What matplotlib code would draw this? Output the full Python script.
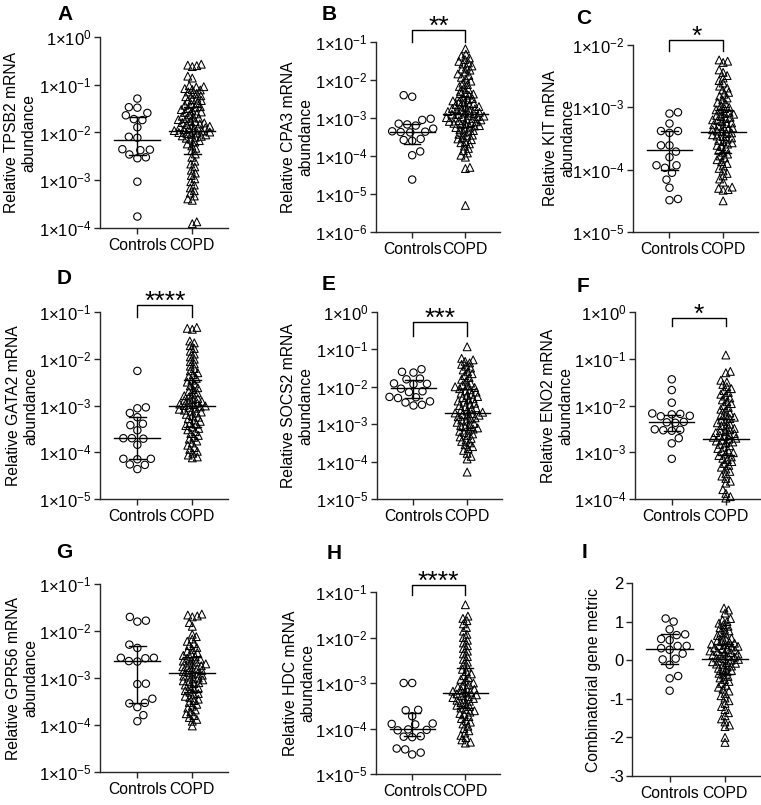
import numpy as np
import matplotlib
matplotlib.use("Agg")
import matplotlib.pyplot as plt
from matplotlib.ticker import FixedLocator, NullLocator
import matplotlib.transforms as mtransforms

plt.rcParams['font.family'] = ['Liberation Sans', 'DejaVu Sans']
plt.rcParams['mathtext.fontset'] = 'custom'
plt.rcParams['mathtext.rm'] = 'Liberation Sans'
plt.rcParams['mathtext.it'] = 'Liberation Sans:italic'
plt.rcParams['mathtext.bf'] = 'Liberation Sans:bold'
plt.rcParams['axes.unicode_minus'] = False

# ---------------- data (log10 of relative abundance) -------------
groups = ["Controls", "COPD"]
letters = ["A", "B", "C", "D", "E", "F", "G", "H", "I"]
ylabels = ["Relative TPSB2 mRNA\nabundance", "Relative CPA3 mRNA\nabundance",
           "Relative KIT mRNA\nabundance", "Relative GATA2 mRNA\nabundance",
           "Relative SOCS2 mRNA\nabundance", "Relative ENO2 mRNA\nabundance",
           "Relative GPR56 mRNA\nabundance", "Relative HDC mRNA\nabundance",
           "Combinatorial gene metric"]
significance = ["", "**", "*", "****", "***", "*", "", "****", ""]
y_exp_range = [(-4, 0), (-6, -1), (-5, -2), (-5, -1), (-5, 0), (-4, 0), (-5, -1), (-5, -1), None]
lin_ticks_I = [-3, -2, -1, 0, 1, 2]

tpsb2_ctrl = [-1.29, -1.47, -1.48, -1.59, -1.64, -1.72, -1.74, -1.89, -2.09, -2.11,
              -2.35, -2.36, -2.37, -2.46, -2.52, -2.54, -3.03, -3.76]
tpsb2_copd = [-0.57, -0.59, -0.60, -0.62, -0.82, -0.86, -1.02, -1.04, -1.05, -1.08,
              -1.10, -1.11, -1.15, -1.18, -1.20, -1.23, -1.25, -1.28, -1.31, -1.33,
              -1.34, -1.38, -1.41, -1.43, -1.46, -1.47, -1.50, -1.52, -1.55, -1.57,
              -1.58, -1.61, -1.63, -1.66, -1.68, -1.70, -1.71, -1.73, -1.76, -1.77,
              -1.79, -1.80, -1.82, -1.83, -1.85, -1.87, -1.88, -1.90, -1.91, -1.92,
              -1.94, -1.95, -1.96, -1.97, -1.99, -2.00, -2.01, -2.02, -2.04, -2.05,
              -2.07, -2.08, -2.10, -2.12, -2.14, -2.17, -2.20, -2.24, -2.28, -2.33,
              -2.38, -2.45, -2.52, -2.60, -2.66, -2.72, -2.79, -2.85, -2.90, -2.97,
              -3.03, -3.10, -3.16, -3.22, -3.27, -3.33, -3.39, -3.42, -3.87, -3.91]
cpa3_ctrl = [-2.40, -2.44, -3.02, -3.05, -3.15, -3.17, -3.20, -3.28, -3.35, -3.36,
             -3.37, -3.38, -3.55, -3.58, -3.60, -3.88, -3.98, -4.62]
cpa3_copd = [-1.18, -1.32, -1.37, -1.42, -1.46, -1.51, -1.55, -1.58, -1.63, -1.66,
             -1.71, -1.74, -1.79, -1.84, -1.88, -1.93, -1.98, -2.03, -2.08, -2.12,
             -2.17, -2.21, -2.25, -2.30, -2.33, -2.37, -2.40, -2.43, -2.47, -2.49,
             -2.52, -2.55, -2.57, -2.60, -2.62, -2.65, -2.66, -2.69, -2.70, -2.72,
             -2.75, -2.76, -2.78, -2.80, -2.81, -2.83, -2.85, -2.87, -2.88, -2.90,
             -2.91, -2.93, -2.95, -2.96, -2.97, -2.99, -3.00, -3.01, -3.03, -3.05,
             -3.07, -3.09, -3.10, -3.12, -3.14, -3.15, -3.18, -3.20, -3.21, -3.24,
             -3.25, -3.27, -3.31, -3.33, -3.35, -3.39, -3.43, -3.45, -3.47, -3.52,
             -3.55, -3.57, -3.62, -3.65, -3.68, -3.74, -3.80, -3.86, -3.92, -3.98,
             -4.03, -4.30, -4.33, -5.30]
kit_ctrl = [-3.08, -3.10, -3.26, -3.38, -3.38, -3.41, -3.61, -3.61, -3.71, -3.80,
            -3.93, -3.93, -3.97, -4.05, -4.16, -4.29, -4.47, -4.49]
kit_copd = [-2.24, -2.26, -2.28, -2.40, -2.44, -2.49, -2.53, -2.57, -2.61, -2.66,
            -2.69, -2.72, -2.76, -2.79, -2.82, -2.85, -2.88, -2.92, -2.94, -2.97,
            -3.00, -3.02, -3.04, -3.06, -3.08, -3.10, -3.11, -3.13, -3.15, -3.16,
            -3.18, -3.20, -3.21, -3.23, -3.25, -3.26, -3.28, -3.30, -3.31, -3.33,
            -3.35, -3.36, -3.38, -3.39, -3.41, -3.42, -3.44, -3.46, -3.47, -3.49,
            -3.51, -3.53, -3.55, -3.57, -3.59, -3.61, -3.63, -3.66, -3.69, -3.72,
            -3.75, -3.78, -3.81, -3.84, -3.87, -3.90, -3.94, -3.98, -4.02, -4.06,
            -4.10, -4.15, -4.20, -4.28, -4.30, -4.32, -4.33, -4.50]
gata2_ctrl = [-2.26, -3.04, -3.06, -3.16, -3.25, -3.39, -3.42, -3.53, -3.70, -3.70,
              -3.71, -3.84, -4.14, -4.14, -4.15, -4.26, -4.27, -4.36]
gata2_copd = [-1.33, -1.35, -1.37, -1.62, -1.66, -1.72, -1.78, -1.84, -1.90, -1.96,
              -2.01, -2.06, -2.11, -2.16, -2.21, -2.26, -2.30, -2.34, -2.38, -2.42,
              -2.46, -2.50, -2.54, -2.58, -2.62, -2.66, -2.70, -2.73, -2.76, -2.79,
              -2.82, -2.85, -2.87, -2.89, -2.91, -2.93, -2.95, -2.97, -2.98, -3.00,
              -3.01, -3.03, -3.04, -3.06, -3.08, -3.10, -3.12, -3.14, -3.16, -3.19,
              -3.22, -3.25, -3.28, -3.31, -3.34, -3.37, -3.40, -3.43, -3.46, -3.49,
              -3.52, -3.56, -3.60, -3.64, -3.68, -3.72, -3.76, -3.80, -3.85, -3.90,
              -3.94, -3.98, -4.02, -4.06, -4.10, -4.12]
socs2_ctrl = [-1.53, -1.60, -1.62, -1.78, -1.80, -1.91, -1.92, -1.93, -2.05, -2.12,
              -2.14, -2.27, -2.28, -2.30, -2.39, -2.42, -2.48, -2.50]
socs2_copd = [-0.93, -1.24, -1.28, -1.32, -1.36, -1.40, -1.45, -1.50, -1.55, -1.60,
              -1.65, -1.70, -1.75, -1.80, -1.85, -1.90, -1.95, -1.98, -2.00, -2.02,
              -2.05, -2.08, -2.11, -2.14, -2.17, -2.20, -2.23, -2.26, -2.29, -2.32,
              -2.35, -2.38, -2.41, -2.44, -2.47, -2.50, -2.53, -2.56, -2.59, -2.62,
              -2.65, -2.68, -2.70, -2.72, -2.74, -2.76, -2.78, -2.80, -2.83, -2.86,
              -2.89, -2.92, -2.95, -2.98, -3.01, -3.04, -3.07, -3.10, -3.13, -3.16,
              -3.19, -3.22, -3.26, -3.30, -3.34, -3.38, -3.42, -3.46, -3.50, -3.55,
              -3.60, -3.65, -3.70, -3.78, -3.86, -3.93, -4.28]
eno2_ctrl = [-1.44, -1.67, -1.94, -2.17, -2.18, -2.19, -2.22, -2.23, -2.35, -2.36,
             -2.37, -2.51, -2.52, -2.53, -2.54, -2.70, -2.81, -3.14]
eno2_copd = [-0.92, -1.27, -1.30, -1.46, -1.50, -1.55, -1.60, -1.64, -1.68, -1.72,
             -1.76, -1.80, -1.84, -1.88, -1.92, -1.96, -2.00, -2.04, -2.08, -2.12,
             -2.16, -2.19, -2.22, -2.25, -2.28, -2.31, -2.34, -2.37, -2.40, -2.43,
             -2.46, -2.49, -2.52, -2.54, -2.56, -2.58, -2.60, -2.62, -2.64, -2.66,
             -2.68, -2.70, -2.72, -2.74, -2.76, -2.78, -2.80, -2.83, -2.86, -2.89,
             -2.92, -2.95, -2.98, -3.01, -3.04, -3.07, -3.10, -3.13, -3.16, -3.20,
             -3.24, -3.28, -3.32, -3.36, -3.41, -3.46, -3.51, -3.56, -3.62, -3.66,
             -3.80, -3.88, -3.95, -3.98]
gpr56_ctrl = [-1.70, -1.78, -1.80, -2.29, -2.36, -2.57, -2.57, -2.58, -2.64, -2.65,
              -3.12, -3.13, -3.44, -3.53, -3.54, -3.62, -3.79, -3.92]
gpr56_copd = [-1.64, -1.66, -1.68, -1.70, -1.82, -1.90, -2.07, -2.12, -2.17, -2.22,
              -2.27, -2.31, -2.35, -2.39, -2.43, -2.46, -2.49, -2.52, -2.55, -2.58,
              -2.60, -2.62, -2.64, -2.66, -2.68, -2.70, -2.72, -2.74, -2.76, -2.78,
              -2.80, -2.82, -2.84, -2.86, -2.88, -2.90, -2.92, -2.94, -2.96, -2.98,
              -3.00, -3.02, -3.04, -3.06, -3.08, -3.10, -3.12, -3.15, -3.18, -3.21,
              -3.24, -3.27, -3.30, -3.33, -3.36, -3.39, -3.42, -3.45, -3.48, -3.52,
              -3.56, -3.60, -3.64, -3.68, -3.72, -3.76, -3.80, -3.84, -3.88, -3.92,
              -4.02]
hdc_ctrl = [-3.00, -3.00, -3.59, -3.60, -3.73, -3.89, -3.90, -3.91, -4.02, -4.03,
            -4.04, -4.17, -4.18, -4.19, -4.44, -4.46, -4.53, -4.57]
hdc_copd = [-1.28, -1.53, -1.58, -1.63, -1.70, -1.78, -1.86, -1.93, -2.00, -2.06,
            -2.12, -2.18, -2.24, -2.30, -2.36, -2.42, -2.48, -2.54, -2.60, -2.65,
            -2.70, -2.75, -2.80, -2.84, -2.88, -2.92, -2.96, -3.00, -3.03, -3.06,
            -3.09, -3.12, -3.14, -3.16, -3.18, -3.20, -3.22, -3.24, -3.26, -3.28,
            -3.30, -3.32, -3.34, -3.36, -3.38, -3.40, -3.43, -3.46, -3.49, -3.52,
            -3.55, -3.58, -3.61, -3.64, -3.67, -3.70, -3.74, -3.78, -3.82, -3.86,
            -3.90, -3.95, -4.00, -4.05, -4.10, -4.15, -4.20, -4.25, -4.30, -4.32]
combo_ctrl = [1.08, 1.00, 0.80, 0.67, 0.65, 0.55, 0.52, 0.37, 0.37, 0.31,
              0.27, 0.17, 0.04, 0.02, -0.12, -0.41, -0.47, -0.79]
combo_copd = [1.35, 1.30, 1.22, 1.08, 1.04, 1.00, 0.96, 0.92, 0.88, 0.84,
              0.80, 0.76, 0.72, 0.68, 0.64, 0.60, 0.57, 0.54, 0.51, 0.48,
              0.46, 0.44, 0.42, 0.40, 0.38, 0.36, 0.34, 0.32, 0.30, 0.28,
              0.26, 0.24, 0.22, 0.20, 0.18, 0.16, 0.14, 0.12, 0.10, 0.08,
              0.06, 0.04, 0.02, 0.00, -0.02, -0.04, -0.06, -0.08, -0.10, -0.12,
              -0.15, -0.18, -0.21, -0.24, -0.27, -0.30, -0.34, -0.38, -0.42, -0.46,
              -0.50, -0.55, -0.60, -0.65, -0.70, -0.75, -0.80, -0.86, -0.92, -0.98,
              -1.05, -1.12, -1.20, -1.28, -1.36, -1.44, -1.52, -1.60, -1.68, -1.72,
              -2.00, -2.13]

ctrl_data = [tpsb2_ctrl, cpa3_ctrl, kit_ctrl, gata2_ctrl, socs2_ctrl, eno2_ctrl,
             gpr56_ctrl, hdc_ctrl, combo_ctrl]
copd_data = [tpsb2_copd, cpa3_copd, kit_copd, gata2_copd, socs2_copd, eno2_copd,
             gpr56_copd, hdc_copd, combo_copd]

# median, lower quartile, upper quartile (same units as the data)
ctrl_median = [-2.15, -3.37, -3.69, -3.70, -2.04, -2.36, -2.64, -4.02, 0.30]
ctrl_q1 = [-2.48, -3.68, -4.00, -4.14, -2.31, -2.54, -3.54, -4.17, -0.10]
ctrl_q3 = [-1.68, -3.15, -3.38, -3.25, -1.82, -2.21, -2.32, -3.66, 0.67]
copd_median = [-1.96, -2.89, -3.39, -3.00, -2.71, -2.72, -2.90, -3.23, 0.03]
copd_q1 = [-2.46, -3.25, -3.74, -3.45, -3.15, -3.06, -3.30, -3.55, -0.35]
copd_q3 = [-1.46, -2.45, -3.05, -2.46, -2.05, -2.28, -2.55, -2.68, 0.42]

# ---------------- layout (pixels) -------------
W, H = 761, 805
axes_px = [(100, 37, 228, 228), (376, 42, 500, 232), (633, 45, 758, 232),
           (100, 312, 228, 499), (377, 312, 502, 499), (635, 312, 761, 499),
           (100, 584, 228, 772), (376, 592, 500, 774), (632, 583, 761, 776)]
label_right_px = [36, 313, 575, 38, 313, 573, 38, 315, 601]
letter_px = [(57, 15), (322, 14), (576, 19), (57, 278), (322, 284), (577, 287),
             (56, 552), (327, 553), (582, 552)]
bracket_frac = [None, (1.063, 1.0), (1.027, 0.968), (1.037, 0.973), (0.947, 0.872),
                (0.968, 0.925), None, (1.038, 0.984), None]

fig = plt.figure(figsize=(W / 100, H / 100), dpi=100)
FS_YTICK = 12
FS_XTICK = 11.3
FS_LAB = 11.3
spine_col = "#262626"


def swarm(ax, xc, yvals, min_d, step=0.5):
    pts = ax.transData.transform(np.column_stack([np.full(len(yvals), xc), yvals]))
    ys = pts[:, 1]
    order = np.argsort(ys)
    px_per_unit = ax.transData.transform((1, 0))[0] - ax.transData.transform((0, 0))[0]
    placed = []
    offs = np.zeros(len(ys))
    flip = 1
    for i in order:
        y = ys[i]
        near = [(px, py) for px, py in placed if abs(py - y) < min_d]
        k = 0
        found = None
        while found is None:
            cands = [0.0] if k == 0 else [flip * k * step, -flip * k * step]
            for c in cands:
                if all((px - c) ** 2 + (py - y) ** 2 >= min_d ** 2 for px, py in near):
                    found = c
                    break
            k += 1
        if found != 0:
            flip = -flip
        placed.append((found, y))
        offs[i] = found
    return xc + offs / px_per_unit


for p in range(9):
    l, t, r, b = axes_px[p]
    ax = fig.add_axes([l / W, 1 - b / H, (r - l) / W, (b - t) / H])
    is_log = y_exp_range[p] is not None
    ax.set_xlim(-0.68, 1.65)
    if is_log:
        lo, hi = y_exp_range[p]
        ax.set_yscale("log")
        ax.set_ylim(10.0 ** lo, 10.0 ** hi)
        exps = list(range(lo, hi + 1))
        ax.yaxis.set_major_locator(FixedLocator([10.0 ** e for e in exps]))
        ax.set_yticklabels([r"$\mathregular{1{\times}10^{%d}}$" % e for e in exps])
        ax.yaxis.set_minor_locator(NullLocator())
        conv = lambda v: 10.0 ** np.asarray(v, dtype=float)
    else:
        ax.set_ylim(-3, 2)
        ax.yaxis.set_major_locator(FixedLocator(lin_ticks_I))
        ax.set_yticklabels([str(v) for v in lin_ticks_I])
        conv = lambda v: np.asarray(v, dtype=float)

    for s in ["top", "right"]:
        ax.spines[s].set_visible(False)
    for s in ["left", "bottom"]:
        ax.spines[s].set_linewidth(1.0)
        ax.spines[s].set_color(spine_col)
    ax.set_xticks([0, 1])
    ax.set_xticklabels(groups)
    ax.tick_params(axis="both", direction="out", length=4, width=1.0, color=spine_col,
                   pad=2)
    ax.tick_params(axis="y", labelsize=FS_YTICK)
    ax.tick_params(axis="x", pad=3, labelsize=FS_XTICK)

    cy = conv(ctrl_data[p])
    dy = conv(copd_data[p])
    cx = swarm(ax, 0, cy, 8.5)
    dx = swarm(ax, 1, dy, 4.6)
    ax.scatter(cx, cy, s=28, marker="o", facecolors="none", edgecolors="black",
               linewidths=0.8, clip_on=False, zorder=3)
    ax.scatter(dx, dy, s=32, marker="^", facecolors="none", edgecolors="black",
               linewidths=0.75, clip_on=False, zorder=3)

    # median with interquartile range
    for xc, med, q1, q3 in [(0, ctrl_median[p], ctrl_q1[p], ctrl_q3[p]),
                            (1, copd_median[p], copd_q1[p], copd_q3[p])]:
        m, a, bq = conv([med, q1, q3])
        ax.plot([xc - 0.42, xc + 0.42], [m, m], color="black", lw=1.0, zorder=4)
        ax.plot([xc, xc], [a, bq], color="black", lw=1.0, zorder=4)
        ax.plot([xc - 0.15, xc + 0.15], [a, a], color="black", lw=1.0, zorder=4)
        ax.plot([xc - 0.15, xc + 0.15], [bq, bq], color="black", lw=1.0, zorder=4)

    ax.set_ylabel(ylabels[p], fontsize=FS_LAB)
    ax.yaxis.set_label_coords((label_right_px[p] - l) / (r - l), 0.5)

    if significance[p]:
        top, leg = bracket_frac[p]
        tr = mtransforms.blended_transform_factory(ax.transData, ax.transAxes)
        ax.plot([0, 0, 1, 1], [leg, top, top, leg], color="black", lw=1.0,
                transform=tr, clip_on=False)
        ax.annotate(significance[p], xy=(0.5, top), xycoords=tr, xytext=(0, -3.0),
                    textcoords="offset points", ha="center", va="baseline",
                    fontsize=19, annotation_clip=False)

    lx, ly = letter_px[p]
    fig.text(lx / W, 1 - ly / H, letters[p], fontsize=15, fontweight="bold",
             ha="left", va="center")

fig.savefig("out.png", dpi=100)
